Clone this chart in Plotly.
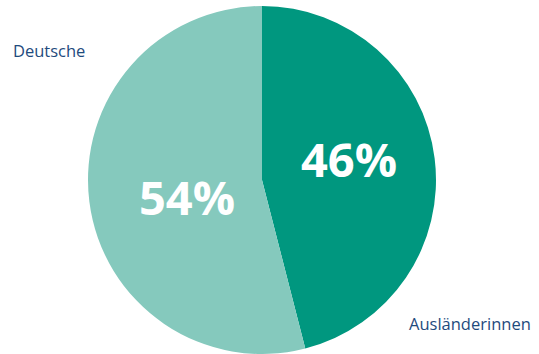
import plotly.graph_objects as go

# Anteile nach Staatsangehörigkeit
categories = ["Ausländerinnen", "Deutsche"]
values = [46, 54]
colors = ["#00977f", "#85c9bd"]

W, H = 539, 354

fig = go.Figure(
    go.Pie(
        labels=categories,
        values=values,
        sort=False,
        direction="clockwise",
        rotation=0,
        marker=dict(colors=colors, line=dict(width=0)),
        textinfo="none",
        hoverinfo="label+percent",
        showlegend=False,
        domain=dict(x=[87 / W, 437 / W], y=[0, 348 / H]),
    )
)

# Prozentwerte in den Segmenten (Pixelpositionen der Textmitte)
total = sum(values)
pct_pos = [(349, 159), (187, 197)]
pct_font = dict(family="Open Sans", size=47, color="white", weight=700)
for v, (px, py) in zip(values, pct_pos):
    fig.add_annotation(text=f"{round(100 * v / total)}%", x=px / W, y=1 - py / H,
                       xref="paper", yref="paper", xanchor="center", yanchor="middle",
                       showarrow=False, font=pct_font)

# Kategoriebeschriftungen außerhalb des Kreises
label_font = dict(family="Open Sans", size=16.5, color="#1f4b7d")
fig.add_annotation(text=categories[1], x=11 / W, y=1 - 50 / H, xref="paper", yref="paper",
                   xanchor="left", yanchor="middle", showarrow=False, font=label_font)
fig.add_annotation(text=categories[0], x=407 / W, y=1 - 323 / H, xref="paper", yref="paper",
                   xanchor="left", yanchor="middle", showarrow=False, font=label_font)

fig.update_layout(
    width=W,
    height=H,
    margin=dict(l=0, r=0, t=0, b=0),
    paper_bgcolor="white",
    plot_bgcolor="white",
)

fig.write_html("out.html")
